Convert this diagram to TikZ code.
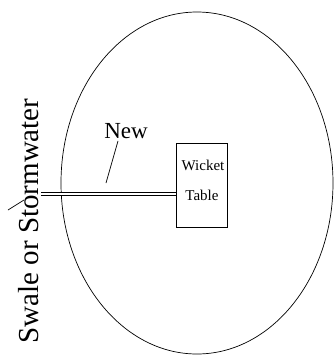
\documentclass[tikz,border=0pt]{standalone}
\usepackage{fontspec}
\setmainfont{Liberation Serif}
\usetikzlibrary{positioning}

\begin{document}
\begin{tikzpicture}[x=1pt,y=-1pt]
        \useasboundingbox (0,0) rectangle (334,360);
        \begin{scope}[line width=0.7pt]
            \draw (197,183) ellipse [x radius=136, y radius=171];
            \node[draw, minimum width=51pt, minimum height=84pt, inner sep=0pt] (wicket) at (201.5,185) {};
            \node[font=\fontsize{15}{15}\selectfont, inner sep=0pt] (wickettext) at (203,165) {Wicket}; \node[font=\fontsize{15}{15}\selectfont, inner sep=0pt] (tabletext) at (202,195) {Table};
            \coordinate (pipeend) at (41,194);
            \draw[double, double distance=1.6pt, line width=0.8pt] (pipeend) -- (wicket.west |- pipeend);
            \node[font=\fontsize{23}{23}\selectfont, inner sep=0pt] (new) at (126,131) {New}; \coordinate (newtip) at (106,183);
            \draw ([xshift=-8pt,yshift=-2pt]new.south) -- (newtip);
            \node[font=\fontsize{29}{29}\selectfont, rotate=90, inner sep=0pt] (swale) at (29,221) {Swale or Stormwater}; \coordinate (swaletick) at (8,210);
            \draw (swaletick) -- (24,200);
        \end{scope}
    \end{tikzpicture}
\end{document}
